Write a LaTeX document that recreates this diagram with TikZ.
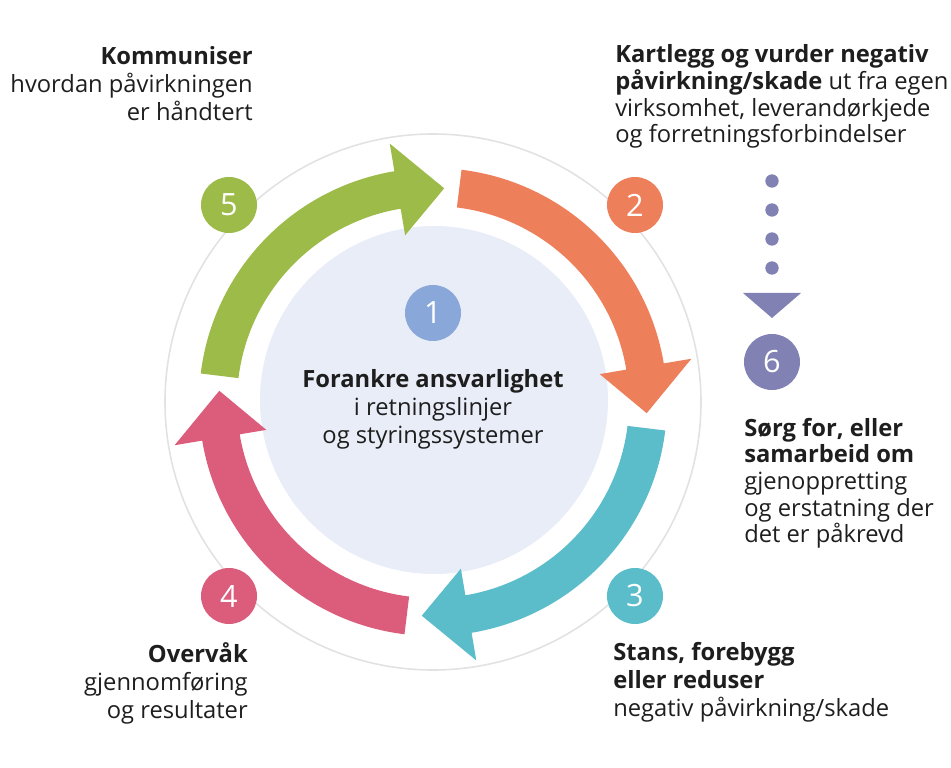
\documentclass[tikz,border=0pt]{standalone}
\usepackage{fontspec}
\setmainfont{Open Sans}
\usetikzlibrary{positioning}

\definecolor{ringgreen}{HTML}{9DBB48}
\definecolor{ringorange}{HTML}{EE7F5B}
\definecolor{ringteal}{HTML}{5BBCCA}
\definecolor{ringpink}{HTML}{DB5C7B}
\definecolor{coreblue}{HTML}{89A7D9}
\definecolor{corefill}{HTML}{E9EDF8}
\definecolor{extraviolet}{HTML}{8181B4}
\definecolor{ringline}{HTML}{E2E2E2}
\definecolor{bodytext}{HTML}{1E1E1E}

\begin{document}
\begin{tikzpicture}[x=0.75pt, y=0.75pt,
  num/.style={circle, fill=#1, text=white, minimum size=42pt, inner sep=0pt,
    font=\fontsize{23}{23}\selectfont},
  dot/.style={circle, fill=extraviolet, minimum size=10pt, inner sep=0pt},
  txt/.style={inner sep=0pt, text=bodytext, font=\fontsize{17.8}{21.2}\selectfont},
  tight/.style={font=\fontsize{17.8}{20}\selectfont}]
  \useasboundingbox (0,0) rectangle (951,768);

  % rings
  \coordinate (mid) at (433,366);
  \draw[ringline, line width=1.2pt] (mid) circle[radius=268];
  \fill[corefill] (434,368) circle[radius=174];

  % the four arrows of the cycle
  \foreach \a/\col in {173/ringgreen, 83/ringorange, -7/ringteal, -97/ringpink}{
    \pgfmathsetmacro\hb{\a-73.5}
    \pgfmathsetmacro\tp{\a-86}
    \fill[\col] ([shift={(\a:234)}]mid) arc[start angle=\a, end angle=\hb, radius=234]
      -- ([shift={(\hb:262)}]mid) -- ([shift={(\tp:214)}]mid) -- ([shift={(\hb:169)}]mid)
      -- ([shift={(\hb:196)}]mid) arc[start angle=\hb, end angle=\a, radius=196] -- cycle;
  }

  % numbers
  \node[num=coreblue] (n1) at (433,455) {1};
  \node[num=ringorange] (n2) at (635,563) {2};
  \node[num=ringteal] (n3) at (635,172) {3};
  \node[num=ringpink] (n4) at (229,172) {4};
  \node[num=ringgreen] (n5) at (229,563) {5};

  % step 6
  \node[dot] (d1) at (772,587) {};
  \node[dot] (d2) at (772,558) {};
  \node[dot] (d3) at (772,529) {};
  \node[dot] (d4) at (772,500) {};
  \fill[extraviolet] (743,475) -- (801,475) -- (772,450) -- cycle;
  \node[num=extraviolet] (n6) at (772,406) {6};

  % texts (anchored on the last line)
  \node[txt, anchor=base, align=center] (t1) at (433,324)
    {\textbf{Forankre ansvarlighet}\\i retningslinjer\\og styringssystemer};
  \node[txt, tight, anchor=base west, align=left] (t2) at (615,625)
    {\textbf{Kartlegg og vurder negativ}\\\textbf{påvirkning/skade} ut fra egen\\virksomhet, leverandørkjede\\og forretningsforbindelser};
  \node[txt, anchor=base west, align=left] (t3) at (613,51)
    {\textbf{Stans, forebygg}\\\textbf{eller reduser}\\negativ påvirkning/skade};
  \node[txt, anchor=base east, align=right] (t4) at (248,49)
    {\textbf{Overvåk}\\gjennomføring\\og resultater};
  \node[txt, anchor=base east, align=right] (t5) at (253,647)
    {\textbf{Kommuniser}\\hvordan påvirkningen\\er håndtert};
  \node[txt, tight, anchor=base west, align=left] (t6) at (744,225)
    {\textbf{Sørg for, eller}\\\textbf{samarbeid om}\\gjenoppretting\\og erstatning der\\det er påkrevd};
\end{tikzpicture}
\end{document}
